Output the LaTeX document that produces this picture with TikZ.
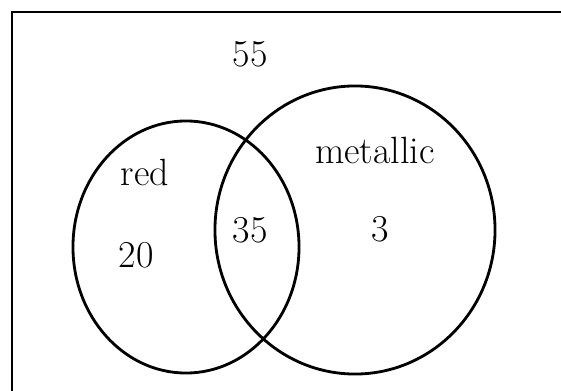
\documentclass[tikz,border=0pt]{standalone}
\usetikzlibrary{shapes.geometric}

\tikzset{
  set/.style={ellipse, draw, line width=2pt, inner sep=0pt},
  lbl/.style={font=\fontsize{27}{30}\selectfont},
}

\begin{document}
\begin{tikzpicture}[x=0.025cm, y=-0.025cm, line width=2pt]
    \useasboundingbox (0,0) rectangle (561,390);
    \clip (0,0) rectangle (561,390);

    % 全体の枠
    \coordinate (UR) at (575,12);
    \coordinate (UL) at (12,12);
    \coordinate (LL) at (12,400);
    \draw (UR) -- (UL) -- (LL);

    % 集合を描く
    \node[set, minimum width=5.65cm, minimum height=6.3cm] (R) at (186,247) {};
    \node[set, minimum width=7cm, minimum height=7.2cm] (M) at (355,230) {};

    % 人数を書く
    \node[lbl] (all) at (250,54) {55};
    \node[lbl] (red) at (145,172) {red};
    \node[lbl] (met) at (375,150) {metallic};
    \node[lbl] (onlyR) at (136,255) {20};
    \node[lbl] (both) at (250,230) {35};
    \node[lbl] (onlyM) at (380,229) {3};
\end{tikzpicture}
\end{document}
